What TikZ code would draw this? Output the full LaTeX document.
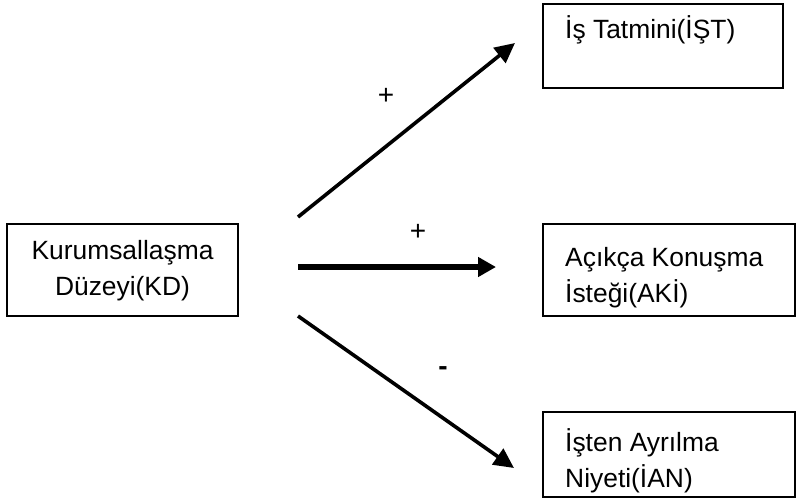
\documentclass[tikz,border=0pt]{standalone}
\usepackage{fontspec}
\setmainfont{Liberation Sans}
\usetikzlibrary{arrows.meta}
\tikzset{
  box/.style={draw=black, line width=1.5pt, rectangle, inner sep=0pt},
  txt/.style={font=\fontsize{26.4}{36}\selectfont, inner sep=0pt},
  thinarrow/.style={line width=3.6pt, -{Triangle[length=20pt,width=19pt]}},
  thickarrow/.style={line width=6.5pt, -{Triangle[length=18pt,width=19pt]}},
  sign/.style={font=\fontsize{28}{30}\selectfont, inner sep=0pt}
}
\begin{document}
\begin{tikzpicture}[x=1pt,y=-1pt]
\useasboundingbox (0,0) rectangle (796,499);
% boxes
\node[box, minimum width=231pt, minimum height=92pt] (kd) at (122.5,270) {};
\node[box, minimum width=240pt, minimum height=84pt] (ist) at (663,46) {};
\node[box, minimum width=252pt, minimum height=92pt] (aki) at (669,270) {};
\node[box, minimum width=252pt, minimum height=85pt] (ian) at (669,454.5) {};
% texts
\node[txt, align=center] (kdt) at (122.5,271) {Kurumsallaşma\\Düzeyi(KD)};
\node[txt, anchor=base west] (istt) at (565,38) {İş Tatmini(İŞT)};
\node[txt, align=left, anchor=west] (akit) at (565,278) {Açıkça Konuşma\\İsteği(AKİ)};
\node[txt, align=left, anchor=west] (iant) at (565,461) {İşten Ayrılma\\Niyeti(İAN)};
% arrow end points
\coordinate (s1) at (298,217);
\coordinate (e1) at (515,43);
\coordinate (s2) at (298,267);
\coordinate (e2) at (496,267);
\coordinate (s3) at (298,316);
\coordinate (e3) at (514,468);
\draw[thinarrow] (s1) -- (e1);
\draw[thickarrow] (s2) -- (e2);
\draw[thinarrow] (s3) -- (e3);
% signs
\node[sign] (p1) at (386,96) {+};
\node[sign] (p2) at (418,232) {+};
\node[sign, font=\fontsize{28}{30}\selectfont\bfseries] (m1) at (443,371) {-};
\end{tikzpicture}
\end{document}
